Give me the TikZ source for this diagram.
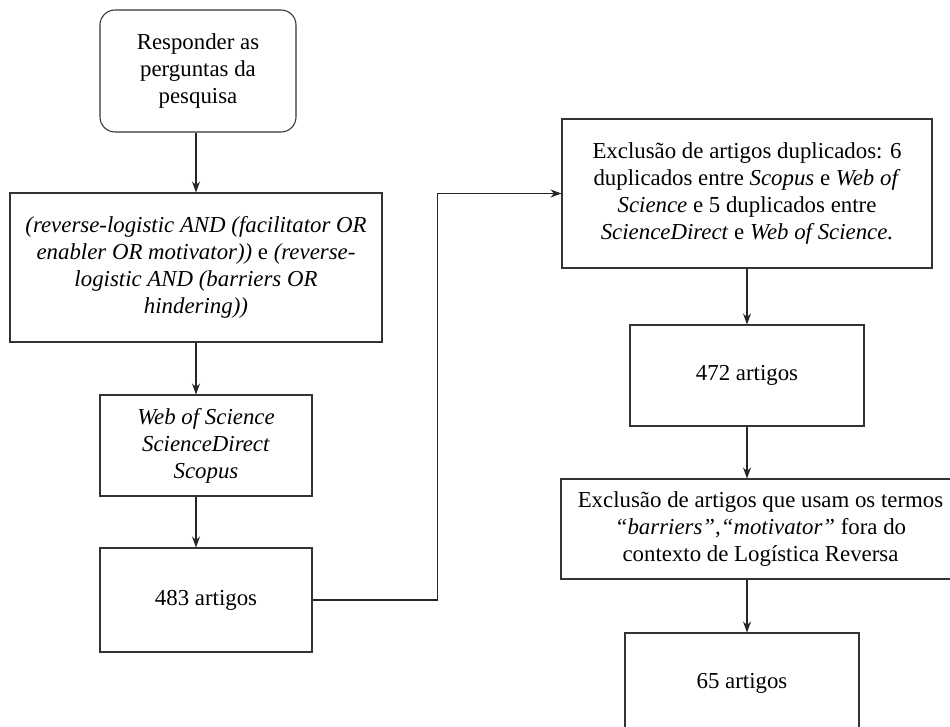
\documentclass[tikz,border=0pt]{standalone}
\usepackage{fontspec}
\setmainfont{Liberation Serif}
\usetikzlibrary{arrows.meta}

\begin{document}
\begin{tikzpicture}[
  font=\fontsize{13}{15.4}\selectfont,
  line width=0.6pt,
  box/.style={draw=black!80,rectangle,align=center,inner sep=0pt},
  startbox/.style={box,rounded corners=0.3cm},
  flow/.style={draw=black!85,-{Stealth[length=2.2mm,width=1.6mm]}}]

\useasboundingbox (0,0) rectangle (19,-14.52);

%left column
  \node[startbox,minimum width=3.92cm,minimum height=2.44cm] (perg) at (3.96,-1.42)
    {Responder as\\perguntas da\\pesquisa};
  \node[box,minimum width=7.44cm,minimum height=2.98cm] (busca) at (3.92,-5.35)
    {\textit{(reverse-logistic AND (facilitator OR}\\
     \textit{enabler OR motivator))} e \textit{(reverse-}\\
     \textit{logistic AND (barriers OR}\\
     \textit{hindering))}};
  \node[box,minimum width=4.24cm,minimum height=2.02cm] (bases) at (4.12,-8.91)
    {\textit{Web of Science}\\\textit{ScienceDirect}\\\textit{Scopus}};
  \node[box,minimum width=4.24cm,minimum height=2.08cm] (n483) at (4.12,-12.0)
    {483 artigos};

%right column
  \node[box,minimum width=7.4cm,minimum height=2.98cm] (dupl) at (14.94,-3.87)
    {Exclusão de artigos duplicados: 6\\
     duplicados entre \textit{Scopus} e \textit{Web of}\\
     \textit{Science} e 5 duplicados entre\\
     \textit{ScienceDirect} e \textit{Web of Science.}};
  \node[box,minimum width=4.68cm,minimum height=2.02cm] (n472) at (14.94,-7.51)
    {472 artigos};
  \node[box,minimum width=7.98cm,minimum height=2.0cm] (excl) at (15.21,-10.58)
    {Exclusão de artigos que usam os termos\\
     \textit{“barriers”,“motivator”} fora do\\
     contexto de Logística Reversa};
  \node[box,minimum width=4.68cm,minimum height=2.02cm] (n65) at (14.84,-13.67)
    {65 artigos};

%draw arrows
  \foreach \a/\b in {perg/busca, busca/bases, bases/n483}
    \draw[flow] (\a.south -| busca) -- (\b.north -| busca);
  \foreach \a/\b in {dupl/n472, n472/excl, excl/n65}
    \draw[flow] (\a.south -| dupl) -- (\b.north -| dupl);
%jump to the right column
  \draw[flow] (n483.east) -- ++(2.5,0) |- (dupl.west);

\end{tikzpicture}
\end{document}
